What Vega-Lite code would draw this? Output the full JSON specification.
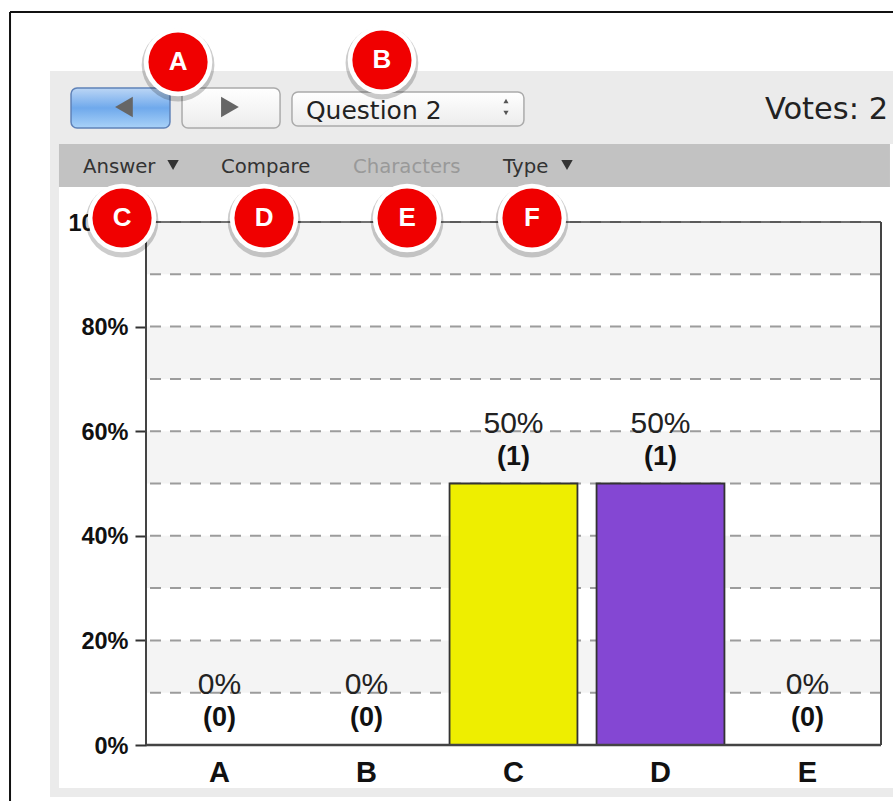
{"$schema":"https://vega.github.io/schema/vega-lite/v6.json","width":735,"height":523,"autosize":{"type":"none"},"padding":{"left":146,"top":222,"right":12,"bottom":56},"background":"#ffffff","view":{"stroke":null},
"datasets":{"answers":[{"answer":"A","share":0,"shareText":"0%","countText":"(0)"},{"answer":"B","share":0,"shareText":"0%","countText":"(0)"},{"answer":"C","share":50,"shareText":"50%","countText":"(1)"},{"answer":"D","share":50,"shareText":"50%","countText":"(1)"},{"answer":"E","share":0,"shareText":"0%","countText":"(0)"}],
"badges":[{"slot":0.218,"pct":130.59,"letter":"A"},{"slot":1.605,"pct":130.98,"letter":"B"},{"slot":-0.163,"pct":100.76,"letter":"C"},{"slot":0.803,"pct":100.76,"letter":"D"},{"slot":1.776,"pct":100.76,"letter":"E"},{"slot":2.626,"pct":100.76,"letter":"F"}]},
"resolve":{"scale":{"x":"independent"}},
"layer":[
{"data":{"values":[{"s1":-0.653,"s2":5.082,"p1":128.87,"p2":114.91},{"s1":-0.653,"s2":-0.592,"p1":114.91,"p2":-9.94},{"s1":-0.653,"s2":5.082,"p1":-8.22,"p2":-9.94}]},"mark":{"type":"rect","color":"#ebebeb"},"encoding":{"x":{"field":"s1","type":"quantitative","scale":{"domain":[0,5],"nice":false,"zero":false},"axis":null},"x2":{"field":"s2"},"y":{"field":"p1","type":"quantitative","scale":{"domain":[0,100],"nice":false},"title":null,"axis":{"values":[0,20,40,60,80,100],"labelExpr":"datum.value + '%'","labelFont":"Liberation Sans","labelFontWeight":"bold","labelFontSize":23.5,"labelColor":"#111111","labelPadding":7,"labelOffset":1,"tickSize":11,"tickWidth":2,"tickColor":"#333333","domain":false,"grid":false,"title":null}},"y2":{"field":"p2"}}},
{"data":{"values":[{"s1":-0.592,"s2":5.061,"p1":114.91,"p2":106.69}]},"mark":{"type":"rect","color":"#c2c2c2"},"encoding":{"x":{"field":"s1","type":"quantitative","scale":{"domain":[0,5],"nice":false,"zero":false},"axis":null},"x2":{"field":"s2"},"y":{"field":"p1","type":"quantitative"},"y2":{"field":"p2"}}},
{"data":{"values":[{"low":10,"high":20},{"low":30,"high":40},{"low":50,"high":60},{"low":70,"high":80},{"low":90,"high":100}]},"mark":{"type":"rect","color":"#f4f4f4"},"encoding":{"y":{"field":"low","type":"quantitative"},"y2":{"field":"high"}}},
{"data":{"values":[{"level":10},{"level":20},{"level":30},{"level":40},{"level":50},{"level":60},{"level":70},{"level":80},{"level":90},{"level":100}]},"mark":{"type":"rule","color":"#9c9c9c","strokeWidth":2,"strokeDash":[11,9]},"encoding":{"y":{"field":"level","type":"quantitative"}}},
{"data":{"name":"answers"},"mark":{"type":"bar","stroke":"#333333","strokeWidth":1.8},"encoding":{"x":{"field":"answer","type":"nominal","sort":null,"scale":{"domain":["A","B","C","D","E"],"paddingInner":0.13,"paddingOuter":0.065},"axis":{"orient":"bottom","title":null,"labelAngle":0,"labelFont":"Liberation Sans","labelFontWeight":"bold","labelFontSize":29,"labelColor":"#111111","labelPadding":13,"ticks":false,"domain":false,"grid":false}},"y":{"field":"share","type":"quantitative"},"color":{"field":"answer","type":"nominal","legend":null,"scale":{"domain":["A","B","C","D","E"],"range":["#e8242a","#2a5fd0","#eeee00","#8447d3","#2fa84a"]}}}},
{"data":{"values":[{"s1":0,"s2":5,"p1":0,"p2":0,"w":"bottom"}]},"mark":{"type":"rule","color":"#444444","strokeWidth":2.4},"encoding":{"x":{"field":"s1","type":"quantitative","scale":{"domain":[0,5],"nice":false,"zero":false},"axis":null},"x2":{"field":"s2"},"y":{"field":"p1","type":"quantitative"}}},
{"data":{"values":[{"s1":0,"s2":5,"p1":100}]},"mark":{"type":"rule","color":"#444444","strokeWidth":1.4},"encoding":{"x":{"field":"s1","type":"quantitative","scale":{"domain":[0,5],"nice":false,"zero":false},"axis":null},"x2":{"field":"s2"},"y":{"field":"p1","type":"quantitative"}}},
{"data":{"values":[{"s1":0,"p1":0,"p2":100},{"s1":5,"p1":0,"p2":100}]},"mark":{"type":"rule","color":"#444444","strokeWidth":2},"encoding":{"x":{"field":"s1","type":"quantitative","scale":{"domain":[0,5],"nice":false,"zero":false},"axis":null},"y":{"field":"p1","type":"quantitative"},"y2":{"field":"p2"}}},
{"data":{"name":"answers"},"mark":{"type":"text","font":"Liberation Sans","fontSize":30,"color":"#222222","baseline":"middle","dy":-60},"encoding":{"x":{"field":"answer","type":"nominal","sort":null,"scale":{"domain":["A","B","C","D","E"],"paddingInner":0.13,"paddingOuter":0.065},"axis":null},"y":{"field":"share","type":"quantitative"},"text":{"field":"shareText"}}},
{"data":{"name":"answers"},"mark":{"type":"text","font":"Liberation Sans","fontWeight":"bold","fontSize":27,"color":"#111111","baseline":"middle","dy":-27},"encoding":{"x":{"field":"answer","type":"nominal","sort":null,"scale":{"domain":["A","B","C","D","E"],"paddingInner":0.13,"paddingOuter":0.065},"axis":null},"y":{"field":"share","type":"quantitative"},"text":{"field":"countText"}}},
{"data":{"values":[{"s1":-0.925,"s2":5.082,"p1":140.15}]},"mark":{"type":"rule","color":"#111111","strokeWidth":2},"encoding":{"x":{"field":"s1","type":"quantitative","scale":{"domain":[0,5],"nice":false,"zero":false},"axis":null},"x2":{"field":"s2"},"y":{"field":"p1","type":"quantitative"}}},
{"data":{"values":[{"s1":-0.925,"p1":140.15,"p2":-10.71}]},"mark":{"type":"rule","color":"#111111","strokeWidth":2},"encoding":{"x":{"field":"s1","type":"quantitative","scale":{"domain":[0,5],"nice":false,"zero":false},"axis":null},"y":{"field":"p1","type":"quantitative"},"y2":{"field":"p2"}}},
{"data":{"values":[{"s1":-0.51,"s2":0.163,"p1":125.62,"p2":117.97}]},"mark":{"type":"rect","cornerRadius":6,"stroke":"#5f82b8","strokeWidth":1.5,"color":{"gradient":"linear","x1":0,"y1":0,"x2":0,"y2":1,"stops":[{"offset":0,"color":"#bcd6f5"},{"offset":0.5,"color":"#6fa9ec"},{"offset":1,"color":"#a9d2f8"}]}},"encoding":{"x":{"field":"s1","type":"quantitative","scale":{"domain":[0,5],"nice":false,"zero":false},"axis":null},"x2":{"field":"s2"},"y":{"field":"p1","type":"quantitative"},"y2":{"field":"p2"}}},
{"data":{"values":[{"s1":0.245,"s2":0.912,"p1":125.62,"p2":117.97},{"s1":0.993,"s2":2.571,"p1":124.86,"p2":118.36}]},"mark":{"type":"rect","cornerRadius":6,"stroke":"#ababab","strokeWidth":1.5,"color":{"gradient":"linear","x1":0,"y1":0,"x2":0,"y2":1,"stops":[{"offset":0,"color":"#ffffff"},{"offset":1,"color":"#ececec"}]}},"encoding":{"x":{"field":"s1","type":"quantitative","scale":{"domain":[0,5],"nice":false,"zero":false},"axis":null},"x2":{"field":"s2"},"y":{"field":"p1","type":"quantitative"},"y2":{"field":"p2"}}},
{"data":{"values":[{"s1":-0.15,"p1":121.99}]},"mark":{"type":"point","shape":"triangle-left","filled":true,"color":"#666666","opacity":1,"size":420},"encoding":{"x":{"field":"s1","type":"quantitative","scale":{"domain":[0,5],"nice":false,"zero":false},"axis":null},"y":{"field":"p1","type":"quantitative"}}},
{"data":{"values":[{"s1":0.571,"p1":121.99}]},"mark":{"type":"point","shape":"triangle-right","filled":true,"color":"#666666","opacity":1,"size":420},"encoding":{"x":{"field":"s1","type":"quantitative","scale":{"domain":[0,5],"nice":false,"zero":false},"axis":null},"y":{"field":"p1","type":"quantitative"}}},
{"data":{"values":[{"s1":2.449,"p1":123.14}]},"mark":{"type":"point","shape":"triangle-up","filled":true,"color":"#555555","opacity":1,"size":26},"encoding":{"x":{"field":"s1","type":"quantitative","scale":{"domain":[0,5],"nice":false,"zero":false},"axis":null},"y":{"field":"p1","type":"quantitative"}}},
{"data":{"values":[{"s1":2.449,"p1":120.84}]},"mark":{"type":"point","shape":"triangle-down","filled":true,"color":"#555555","opacity":1,"size":26},"encoding":{"x":{"field":"s1","type":"quantitative","scale":{"domain":[0,5],"nice":false,"zero":false},"axis":null},"y":{"field":"p1","type":"quantitative"}}},
{"data":{"values":[{"s1":0.184,"p1":110.9},{"s1":2.864,"p1":110.9}]},"mark":{"type":"point","shape":"triangle-down","filled":true,"color":"#333333","opacity":1,"size":130},"encoding":{"x":{"field":"s1","type":"quantitative","scale":{"domain":[0,5],"nice":false,"zero":false},"axis":null},"y":{"field":"p1","type":"quantitative"}}},
{"data":{"values":[{"s1":1.088,"p1":121.2,"t":"Question 2"}]},"mark":{"type":"text","font":"DejaVu Sans","fontSize":25,"color":"#222222","align":"left","baseline":"middle"},"encoding":{"x":{"field":"s1","type":"quantitative","scale":{"domain":[0,5],"nice":false,"zero":false},"axis":null},"y":{"field":"p1","type":"quantitative"},"text":{"field":"t"}}},
{"data":{"values":[{"s1":5.048,"p1":121.4,"t":"Votes: 2"}]},"mark":{"type":"text","font":"DejaVu Sans","fontSize":30.5,"color":"#222222","align":"right","baseline":"middle"},"encoding":{"x":{"field":"s1","type":"quantitative","scale":{"domain":[0,5],"nice":false,"zero":false},"axis":null},"y":{"field":"p1","type":"quantitative"},"text":{"field":"t"}}},
{"data":{"values":[{"s1":-0.429,"p1":110.5,"t":"Answer"},{"s1":0.51,"p1":110.5,"t":"Compare"},{"s1":2.429,"p1":110.5,"t":"Type"}]},"mark":{"type":"text","font":"DejaVu Sans","fontSize":19.7,"color":"#333333","align":"left","baseline":"middle"},"encoding":{"x":{"field":"s1","type":"quantitative","scale":{"domain":[0,5],"nice":false,"zero":false},"axis":null},"y":{"field":"p1","type":"quantitative"},"text":{"field":"t"}}},
{"data":{"values":[{"s1":1.408,"p1":110.5,"t":"Characters"}]},"mark":{"type":"text","font":"DejaVu Sans","fontSize":19.7,"color":"#999999","align":"left","baseline":"middle"},"encoding":{"x":{"field":"s1","type":"quantitative","scale":{"domain":[0,5],"nice":false,"zero":false},"axis":null},"y":{"field":"p1","type":"quantitative"},"text":{"field":"t"}}},
{"data":{"name":"badges"},"mark":{"type":"point","shape":"circle","filled":true,"color":"#000000","opacity":0.2,"size":5300,"yOffset":3},"encoding":{"x":{"field":"slot","type":"quantitative","scale":{"domain":[0,5],"nice":false,"zero":false},"axis":null},"y":{"field":"pct","type":"quantitative"}}},
{"data":{"name":"badges"},"mark":{"type":"point","shape":"circle","filled":true,"color":"#ffffff","opacity":1,"size":4700},"encoding":{"x":{"field":"slot","type":"quantitative","scale":{"domain":[0,5],"nice":false,"zero":false},"axis":null},"y":{"field":"pct","type":"quantitative"}}},
{"data":{"name":"badges"},"mark":{"type":"point","shape":"circle","filled":true,"color":"#f00000","opacity":1,"size":3500},"encoding":{"x":{"field":"slot","type":"quantitative","scale":{"domain":[0,5],"nice":false,"zero":false},"axis":null},"y":{"field":"pct","type":"quantitative"}}},
{"data":{"name":"badges"},"mark":{"type":"text","font":"Liberation Sans","fontWeight":"bold","fontSize":26,"color":"#ffffff","baseline":"middle"},"encoding":{"x":{"field":"slot","type":"quantitative","scale":{"domain":[0,5],"nice":false,"zero":false},"axis":null},"y":{"field":"pct","type":"quantitative"},"text":{"field":"letter"}}}
]}
